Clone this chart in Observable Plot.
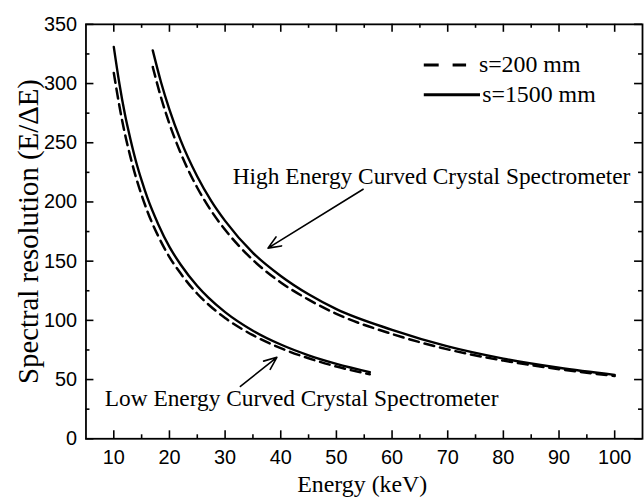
<!DOCTYPE html>
<html><head><meta charset="utf-8">
<script src="https://cdn.jsdelivr.net/npm/d3@7"></script>
<script src="https://cdn.jsdelivr.net/npm/@observablehq/plot@0.6"></script>
<style>html,body{margin:0;padding:0;background:#fff;overflow:hidden;width:644px;height:500px}</style>
</head><body><div id="chart"></div>
<script>
// Low energy spectrometer
const lowEnergy = [10, 11, 12, 13, 14, 15, 16, 18, 20, 22, 25, 27, 30, 35, 40, 45, 50, 56];
const lowSolid  = [331, 300.1, 274, 252.8, 234, 218.2, 204, 181, 162, 147.2, 129, 119.2, 107, 91.3, 79.6, 70.5, 63.3, 56.3];
const lowDashed = [309, 281.2, 257.5, 237.9, 220.5, 205.8, 192.5, 171, 153.5, 139.7, 122.5, 113.4, 102, 87.5, 76.5, 68, 61, 54.5];
// High energy spectrometer
const highEnergy = [17, 18.5, 20, 22, 25, 27.5, 30, 35, 40, 45, 50, 60, 70, 80, 90, 100];
const highSolid  = [328, 300.9, 278, 252.2, 221.5, 200.9, 184, 157, 137.5, 122, 109.5, 92, 78, 67.7, 60, 54];
const highDashed = [314, 288, 266, 241.4, 212, 192.5, 176.5, 151, 132, 117.5, 105.5, 88.5, 75.5, 66, 58.8, 53];

const xMajor = [10, 20, 30, 40, 50, 60, 70, 80, 90, 100];
const xMinor = [15, 25, 35, 45, 55, 65, 75, 85, 95];
const yMajor = [0, 50, 100, 150, 200, 250, 300, 350];
const yMinor = [25, 75, 125, 175, 225, 275, 325];

const legendLabels = ["s=200 mm", "s=1500 mm"];
const annotations = [
  {E: 67.1, R: 221.2, text: "High Energy Curved Crystal Spectrometer"},
  {E: 43.75, R: 33.6, text: "Low Energy Curved Crystal Spectrometer"}
];
const arrows = [
  {x1: 54.8, y1: 210.7, x2: 37.7, y2: 161},
  {x1: 32.75, y1: 44.2, x2: 39.3, y2: 68.8}
];
const legendRows = [
  {label: legendLabels[0], x1: 65.7, x2: 73.3, y: 315.7, ty: 316.3, tx: 75.6, dashed: true},
  {label: legendLabels[1], x1: 65.7, x2: 75.8, y: 290.5, ty: 291, tx: 76.2, dashed: false}
];

const rows = [];
lowEnergy.forEach((e, i) => {
  rows.push({group: "low-200", s: 200, E: e, R: lowDashed[i]});
  rows.push({group: "low-1500", s: 1500, E: e, R: lowSolid[i]});
});
highEnergy.forEach((e, i) => {
  rows.push({group: "high-200", s: 200, E: e, R: highDashed[i]});
  rows.push({group: "high-1500", s: 1500, E: e, R: highSolid[i]});
});

const serif = "Liberation Serif, Times New Roman, serif";
const W = 648, H = 500, mL = 86, mR = 2, mT = 24, mB = 59;
const innerW = W - mL - mR, innerH = H - mT - mB;
const major = 8, minor = 4;
const tickStyle = {stroke: "#000", strokeWidth: 1.6};

const chart = Plot.plot({
  width: W, height: H,
  marginLeft: mL, marginRight: mR, marginTop: mT, marginBottom: mB,
  x: {domain: [5, 105]},
  y: {domain: [0, 350]},
  style: {fontFamily: "Liberation Sans, Arial, sans-serif", fontSize: "20px", color: "#000", background: "#fff"},
  marks: [
    Plot.line(rows.filter(d => d.s === 200), {x: "E", y: "R", z: "group", curve: "monotone-x", stroke: "#000", strokeWidth: 2.5, strokeDasharray: "10,6"}),
    Plot.line(rows.filter(d => d.s === 1500), {x: "E", y: "R", z: "group", curve: "monotone-x", stroke: "#000", strokeWidth: 2.4}),
    Plot.axisX({anchor: "bottom", ticks: xMajor, tickSize: 0, tickPadding: 11, fontSize: 20, label: null}),
    Plot.axisY({anchor: "left", ticks: yMajor, tickSize: 0, tickPadding: 9, fontSize: 20, label: null}),
    // inward ticks on all four sides
    Plot.tickX(xMajor, {x: d => d, insetTop: innerH - major, ...tickStyle}),
    Plot.tickX(xMinor, {x: d => d, insetTop: innerH - minor, ...tickStyle}),
    Plot.tickX(xMajor, {x: d => d, insetBottom: innerH - major, ...tickStyle}),
    Plot.tickX(xMinor, {x: d => d, insetBottom: innerH - minor, ...tickStyle}),
    Plot.tickY(yMajor, {y: d => d, insetRight: innerW - major, ...tickStyle}),
    Plot.tickY(yMinor, {y: d => d, insetRight: innerW - minor, ...tickStyle}),
    Plot.tickY(yMajor, {y: d => d, insetLeft: innerW - major, ...tickStyle}),
    Plot.tickY(yMinor, {y: d => d, insetLeft: innerW - minor, ...tickStyle}),
    Plot.frame({stroke: "#000", strokeWidth: 1.8}),
    Plot.text(["Energy (keV)"], {frameAnchor: "bottom", dy: 46, dx: -2, lineAnchor: "middle", fontFamily: serif, fontSize: 24, fill: "#000"}),
    Plot.text(["Spectral resolution (E/\u0394E)"], {frameAnchor: "left", dx: -58, rotate: -90, lineAnchor: "middle", textAnchor: "middle", fontFamily: serif, fontSize: 29, fill: "#000"}),
    Plot.text(annotations, {x: "E", y: "R", text: "text", textAnchor: "middle", lineAnchor: "middle", fontFamily: serif, fontSize: 23.5, fill: "#000"}),
    Plot.arrow(arrows, {x1: "x1", y1: "y1", x2: "x2", y2: "y2", stroke: "#000", strokeWidth: 1.6, headLength: 13, headAngle: 45}),
    Plot.link(legendRows.filter(d => d.dashed), {x1: "x1", x2: "x2", y1: "y", y2: "y", stroke: "#000", strokeWidth: 3, strokeDasharray: "15,14"}),
    Plot.link(legendRows.filter(d => !d.dashed), {x1: "x1", x2: "x2", y1: "y", y2: "y", stroke: "#000", strokeWidth: 3}),
    Plot.text(legendRows, {x: "tx", y: "ty", text: "label", textAnchor: "start", lineAnchor: "middle", fontFamily: serif, fontSize: 24, fill: "#000"})
  ]
});
document.getElementById("chart").appendChild(chart);
</script>
</body></html>
